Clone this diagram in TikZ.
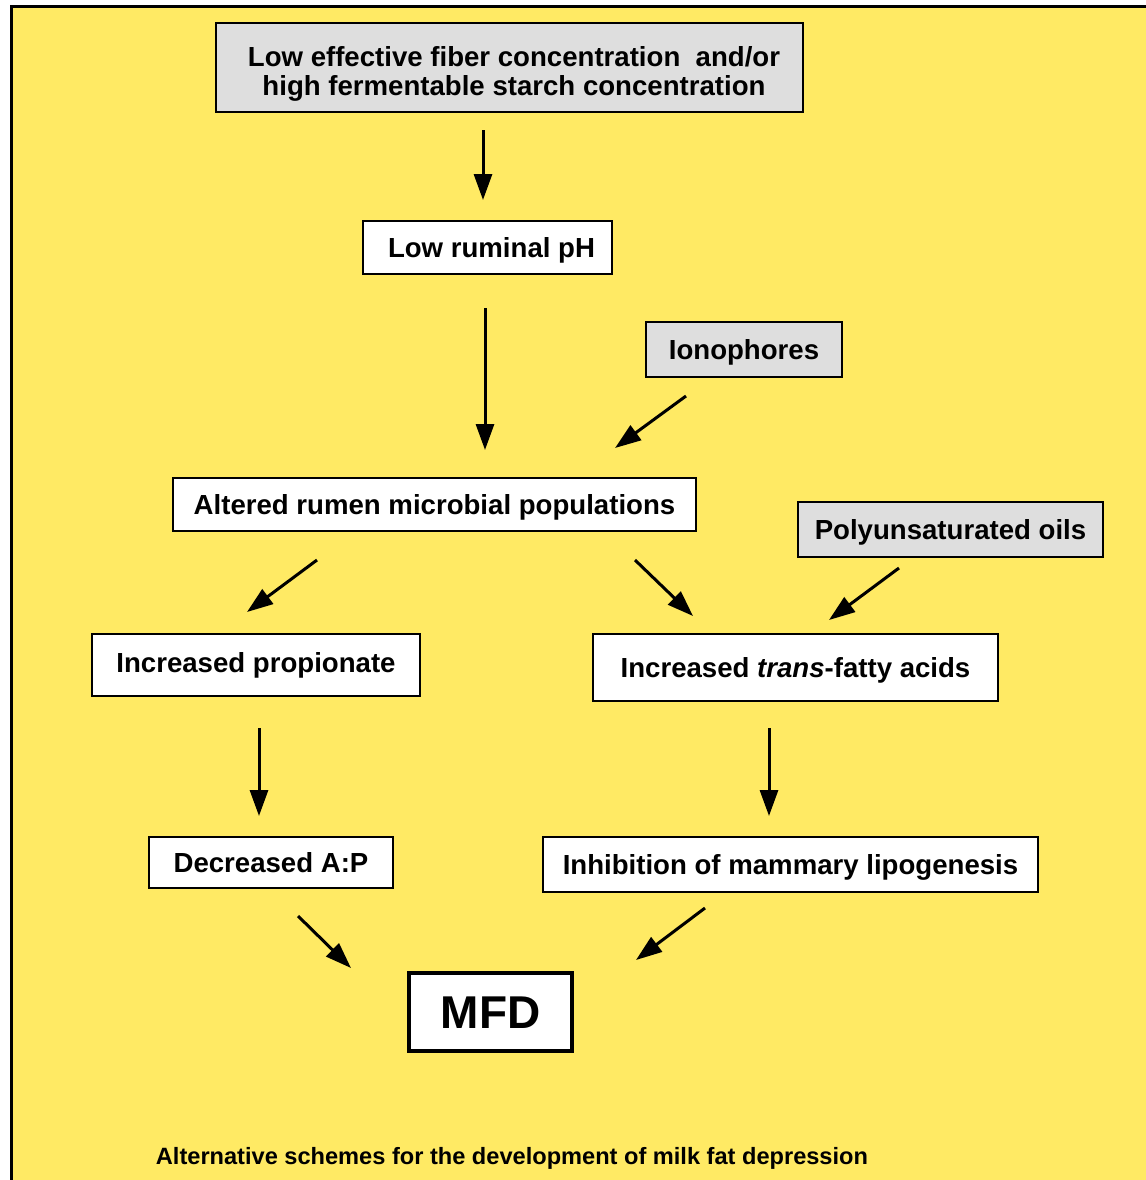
\documentclass[tikz,border=0pt]{standalone}
\usepackage{fontspec}
\setmainfont{Liberation Sans}
\usetikzlibrary{arrows.meta}
\definecolor{panelcolor}{HTML}{FFEA64}
\definecolor{inputcolor}{HTML}{DEDEDE}
\tikzset{
  mfd frame/.style={draw=black,line width=1pt,fill=white,inner sep=0pt,align=center,
    font=\fontsize{13.8}{14.5}\selectfont\bfseries},
  mfd box/.style={mfd frame,text height=10pt,text depth=0pt},
  mfd input/.style={mfd box,fill=inputcolor},
  mfd arrow/.style={line width=1.5pt,-{Triangle[length=13pt,width=9pt]}}
}

\begin{document}
\begin{tikzpicture}[x=0.5pt,y=-0.5pt]
  \useasboundingbox (0,0) rectangle (1146,1180);
  \fill[panelcolor] (10,5) rectangle (1146,1180);
  \draw[line width=1.5pt] (11,1180)--(11,6)--(1146,6);
  % inputs and steps
  \node[mfd frame,fill=inputcolor,minimum width=293.5pt,minimum height=44.5pt] (fiber) at (509.5,67.5)
    {\hspace*{4.5pt}\rule{0pt}{16.5pt}Low effective fiber concentration \ and/or\\\hspace*{4.5pt}high fermentable starch concentration};
  \node[mfd box,minimum width=124.5pt,minimum height=26.5pt] (ph) at (487.5,247.5) {\hspace*{4pt}Low ruminal pH};
  \node[mfd input,minimum width=98pt,minimum height=27.5pt] (iono) at (744,349.5) {Ionophores};
  \node[mfd box,minimum width=261.5pt,minimum height=26.5pt] (microbes) at (434.5,504.5) {Altered rumen microbial populations};
  \node[mfd input,minimum width=152.5pt,minimum height=27.5pt] (oils) at (950.5,529.5) {Polyunsaturated oils};
  \node[mfd box,minimum width=164pt,minimum height=31pt] (prop) at (256,665) {\raisebox{1.5pt}{Increased propionate}};
  \node[mfd box,minimum width=202.5pt,minimum height=33.5pt] (trans) at (795.5,667.5) {Increased \textit{trans}-fatty acids};
  \node[mfd box,minimum width=122pt,minimum height=25.5pt] (ap) at (271,862.5) {Decreased A:P};
  \node[mfd box,minimum width=247.5pt,minimum height=27.5pt] (lipo) at (790.5,864.5) {Inhibition of mammary lipogenesis};
  \node[mfd box,line width=2.25pt,minimum width=81.5pt,minimum height=39pt,text height=16.5pt,
    font=\fontsize{23}{24}\selectfont\bfseries] (mfd) at (490.5,1012) {MFD};
  \node[font=\fontsize{11.8}{12}\selectfont\bfseries] (caption) at (512,1158)
    {Alternative schemes for the development of milk fat depression};
  % arrow ends
  \coordinate (a1s) at (483,130);  \coordinate (a1e) at (483,200);
  \coordinate (a2s) at (485,308);  \coordinate (a2e) at (485,450);
  \coordinate (a3s) at (686,396);  \coordinate (a3e) at (615,448);
  \coordinate (a4s) at (317,560);  \coordinate (a4e) at (247,612);
  \coordinate (a5s) at (635,560);  \coordinate (a5e) at (693,616);
  \coordinate (a6s) at (899,568);  \coordinate (a6e) at (829,620);
  \coordinate (a7s) at (259,728);  \coordinate (a7e) at (259,816);
  \coordinate (a8s) at (769,728);  \coordinate (a8e) at (769,816);
  \coordinate (a9s) at (298,916);  \coordinate (a9e) at (351,968);
  \coordinate (a10s) at (705,908); \coordinate (a10e) at (636,960);
  \foreach \a in {1,...,10}{\draw[mfd arrow] (a\a s)--(a\a e);}
\end{tikzpicture}
\end{document}
